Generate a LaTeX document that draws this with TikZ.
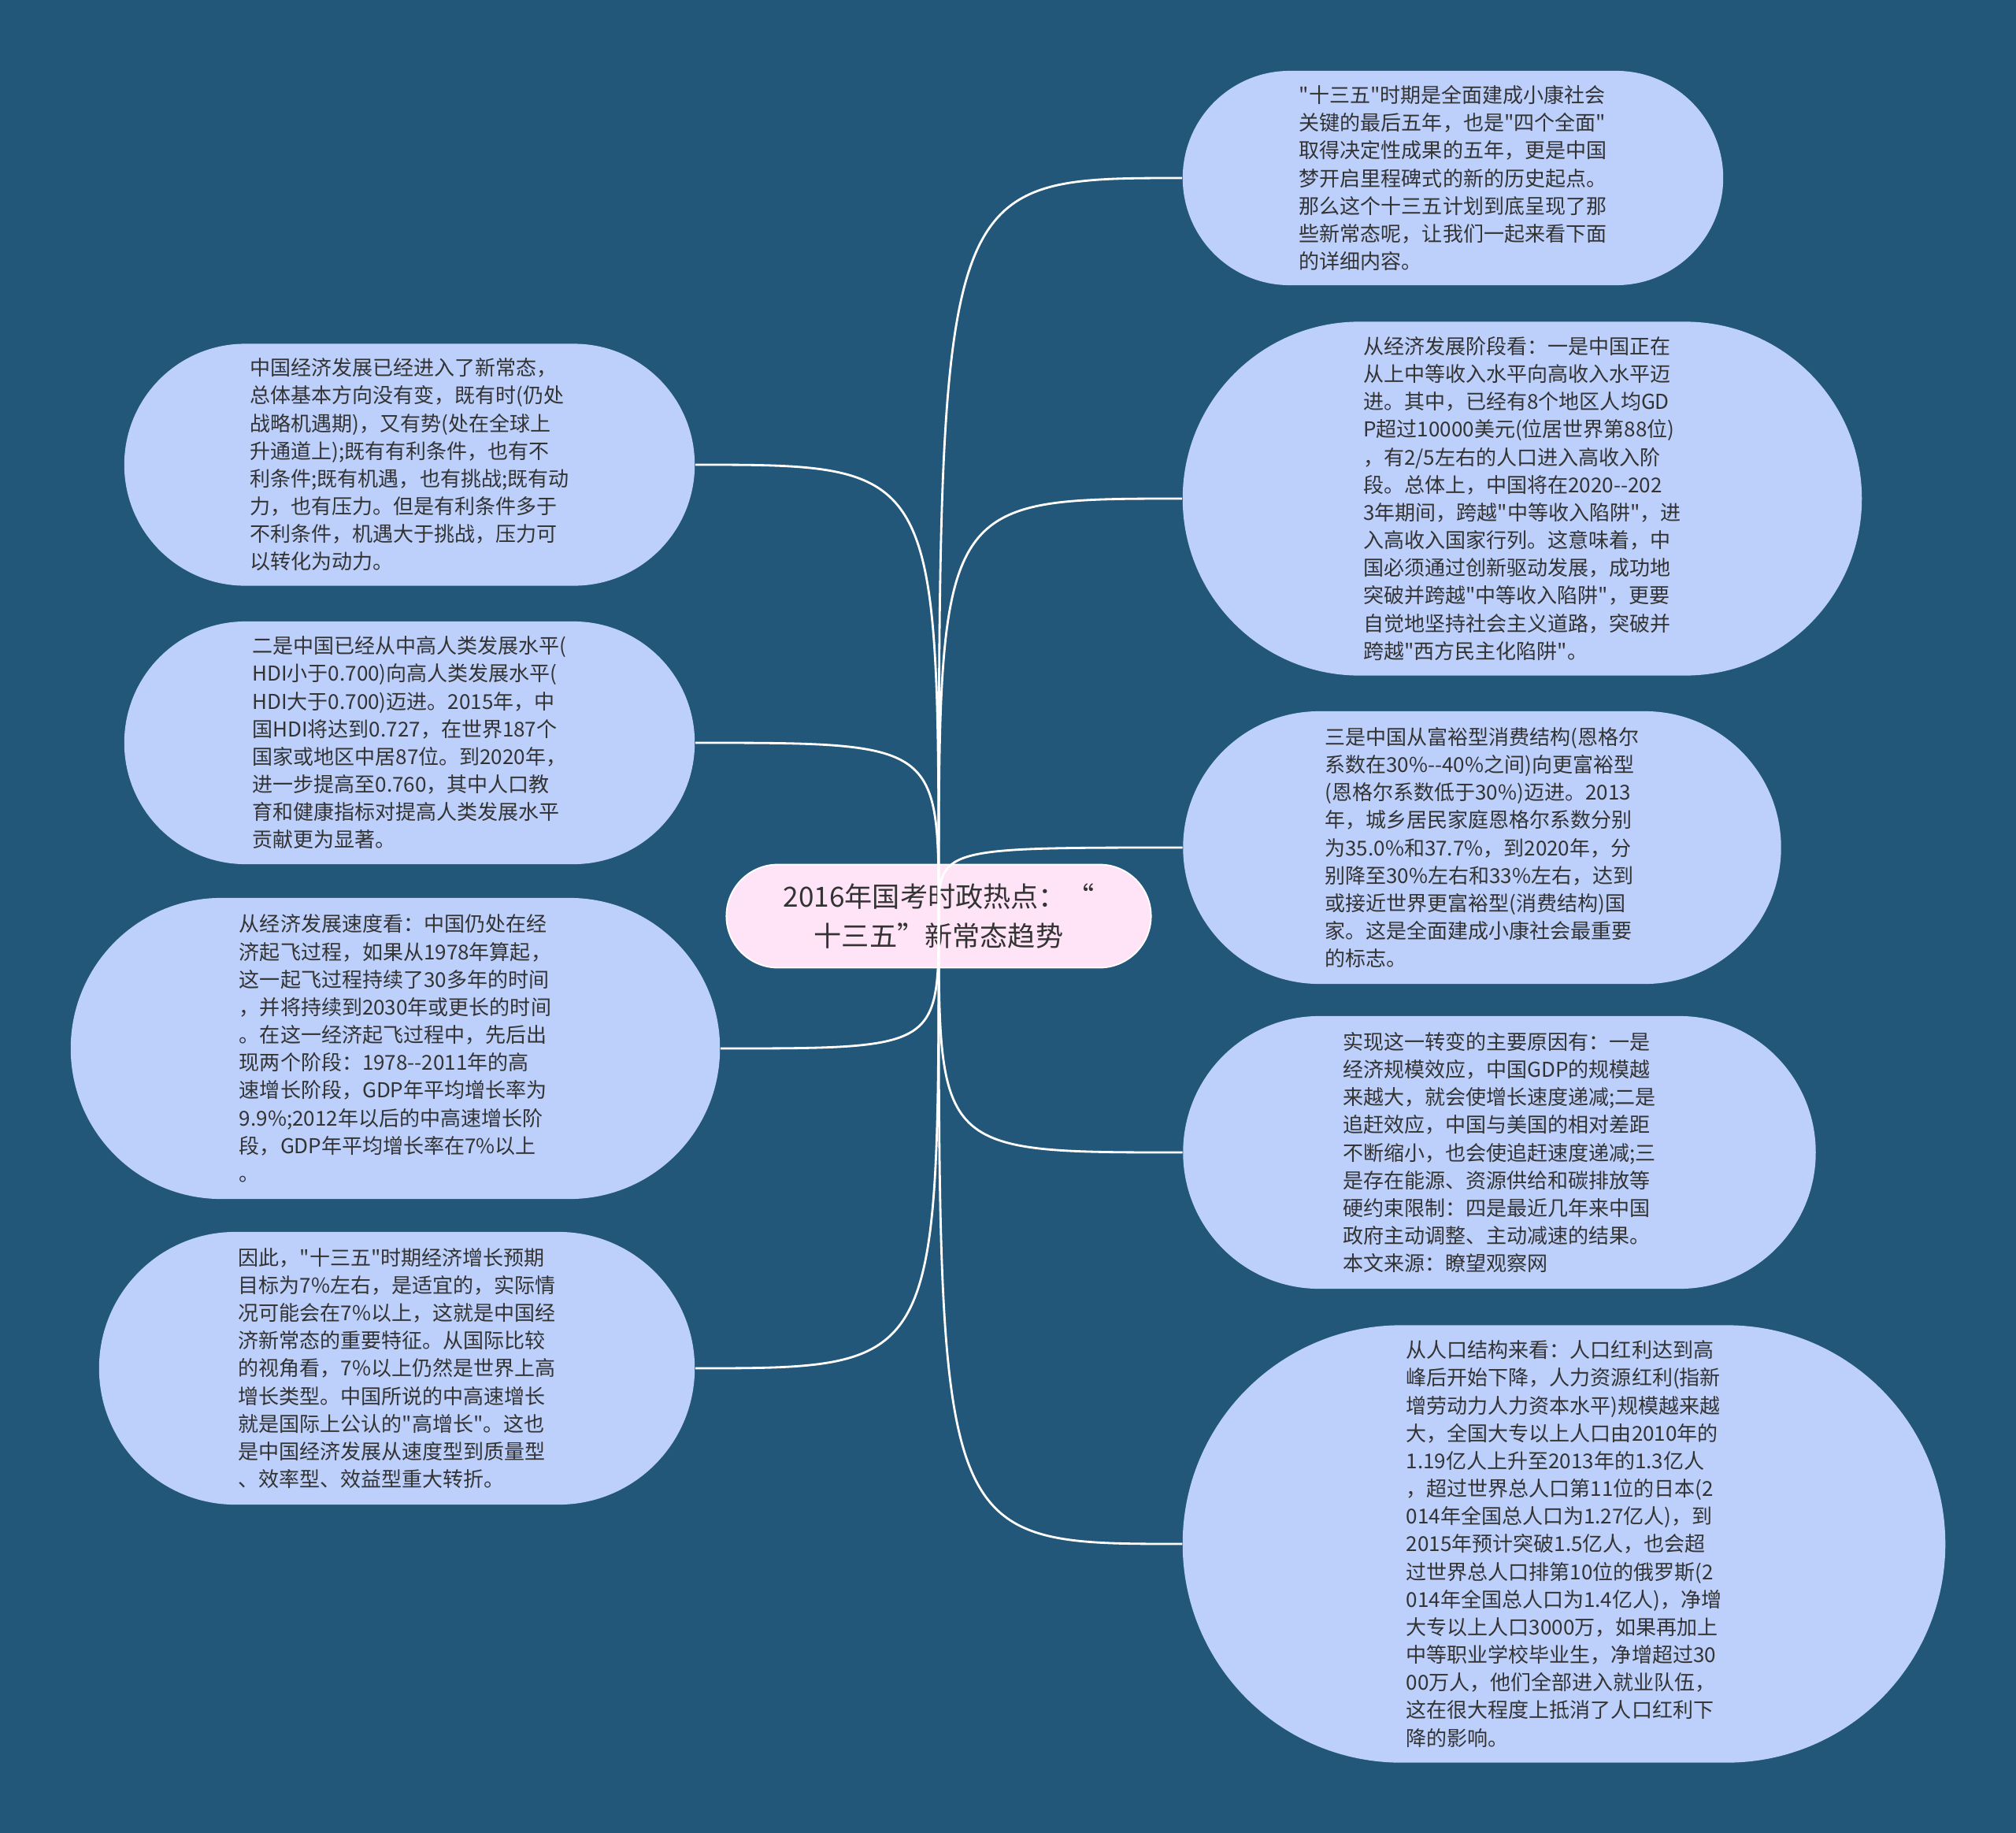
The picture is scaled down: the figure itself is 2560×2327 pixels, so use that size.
\documentclass[tikz,border=0pt]{standalone}
\usepackage{fontspec}
\setmainfont{Noto Sans CJK SC}[Ligatures=TeXOff]
\usetikzlibrary{shapes.misc}

\definecolor{bgblue}{HTML}{22577A}
\definecolor{leafblue}{HTML}{BDD0FB}
\definecolor{rootpink}{HTML}{FFE4F8}
\definecolor{txtgray}{HTML}{333333}

\begin{document}
\begin{tikzpicture}[x=0.01cm, y=-0.01cm,
  leaf/.style={rounded rectangle, fill=leafblue, text=txtgray, align=left, inner sep=0pt,
    font=\fontsize{7.4}{10}\selectfont},
  rootnode/.style={rounded rectangle, fill=rootpink, draw=white, line width=0.5pt, text=txtgray,
    align=center, inner sep=0pt, font=\fontsize{10}{14}\selectfont},
  link/.style={draw=white, line width=0.8pt}]

\fill[bgblue] (0,0) rectangle (2560,2327);

\node[rootnode, minimum width=5.39cm, minimum height=1.31cm] (root) at (1192,1163)
  {2016年国考时政热点：“\\十三五”新常态趋势};

% right side
\node[leaf, minimum width=6.86cm, minimum height=2.72cm] (r1) at (1845,226)
  {"十三五"时期是全面建成小康社会\\关键的最后五年，也是"四个全面"\\取得决定性成果的五年，更是中国\\梦开启里程碑式的新的历史起点。\\那么这个十三五计划到底呈现了那\\些新常态呢，让我们一起来看下面\\的详细内容。};
\node[leaf, minimum width=8.62cm, minimum height=4.49cm] (r2) at (1933,633)
  {从经济发展阶段看：一是中国正在\\从上中等收入水平向高收入水平迈\\进。其中，已经有8个地区人均GD\\P超过10000美元(位居世界第88位)\\，有2/5左右的人口进入高收入阶\\段。总体上，中国将在2020-{}-202\\3年期间，跨越"中等收入陷阱"，进\\入高收入国家行列。这意味着，中\\国必须通过创新驱动发展，成功地\\突破并跨越"中等收入陷阱"，更要\\自觉地坚持社会主义道路，突破并\\跨越"西方民主化陷阱"。};
\node[leaf, minimum width=7.59cm, minimum height=3.46cm] (r3) at (1882,1076)
  {三是中国从富裕型消费结构(恩格尔\\系数在30\%-{}-40\%之间)向更富裕型\\(恩格尔系数低于30\%)迈进。2013\\年，城乡居民家庭恩格尔系数分别\\为35.0\%和37.7\%，到2020年，分\\别降至30\%左右和33\%左右，达到\\或接近世界更富裕型(消费结构)国\\家。这是全面建成小康社会最重要\\的标志。};
\node[leaf, minimum width=8.03cm, minimum height=3.46cm] (r4) at (1904,1463)
  {实现这一转变的主要原因有：一是\\经济规模效应，中国GDP的规模越\\来越大，就会使增长速度递减;二是\\追赶效应，中国与美国的相对差距\\不断缩小，也会使追赶速度递减;三\\是存在能源、资源供给和碳排放等\\硬约束限制：四是最近几年来中国\\政府主动调整、主动减速的结果。\\本文来源：瞭望观察网};
\node[leaf, minimum width=9.68cm, minimum height=5.55cm] (r5) at (1986,1960)
  {从人口结构来看：人口红利达到高\\峰后开始下降，人力资源红利(指新\\增劳动力人力资本水平)规模越来越\\大，全国大专以上人口由2010年的\\1.19亿人上升至2013年的1.3亿人\\，超过世界总人口第11位的日本(2\\014年全国总人口为1.27亿人)，到\\2015年预计突破1.5亿人，也会超\\过世界总人口排第10位的俄罗斯(2\\014年全国总人口为1.4亿人)，净增\\大专以上人口3000万，如果再加上\\中等职业学校毕业生，净增超过30\\00万人，他们全部进入就业队伍，\\这在很大程度上抵消了人口红利下\\降的影响。};

% left side
\node[leaf, minimum width=7.24cm, minimum height=3.07cm] (l1) at (520,590)
  {中国经济发展已经进入了新常态，\\总体基本方向没有变，既有时(仍处\\战略机遇期)，又有势(处在全球上\\升通道上);既有有利条件，也有不\\利条件;既有机遇，也有挑战;既有动\\力，也有压力。但是有利条件多于\\不利条件，机遇大于挑战，压力可\\以转化为动力。};
\node[leaf, minimum width=7.24cm, minimum height=3.08cm] (l2) at (520,943)
  {二是中国已经从中高人类发展水平(\\HDI小于0.700)向高人类发展水平(\\HDI大于0.700)迈进。2015年，中\\国HDI将达到0.727，在世界187个\\国家或地区中居87位。到2020年，\\进一步提高至0.760，其中人口教\\育和健康指标对提高人类发展水平\\贡献更为显著。};
\node[leaf, minimum width=8.24cm, minimum height=3.82cm] (l3) at (502,1331)
  {从经济发展速度看：中国仍处在经\\济起飞过程，如果从1978年算起，\\这一起飞过程持续了30多年的时间\\，并将持续到2030年或更长的时间\\。在这一经济起飞过程中，先后出\\现两个阶段：1978-{}-2011年的高\\速增长阶段，GDP年平均增长率为\\9.9\%;2012年以后的中高速增长阶\\段，GDP年平均增长率在7\%以上\\。};
\node[leaf, minimum width=7.56cm, minimum height=3.46cm] (l4) at (504,1737)
  {因此，"十三五"时期经济增长预期\\目标为7\%左右，是适宜的，实际情\\况可能会在7\%以上，这就是中国经\\济新常态的重要特征。从国际比较\\的视角看，7\%以上仍然是世界上高\\增长类型。中国所说的中高速增长\\就是国际上公认的"高增长"。这也\\是中国经济发展从速度型到质量型\\、效率型、效益型重大转折。};

% connectors
\foreach \n in {r1,r2,r3,r4,r5}
  \draw[link] (root.center) .. controls (root.center |- \n.west) .. (\n.west);
\foreach \n in {l1,l2,l3,l4}
  \draw[link] (root.center) .. controls (root.center |- \n.east) .. (\n.east);

\end{tikzpicture}
\end{document}
